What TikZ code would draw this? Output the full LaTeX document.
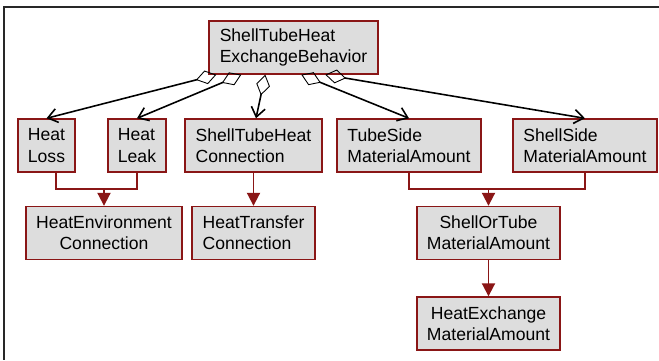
\documentclass[tikz,border=0pt]{standalone}
\usepackage{fontspec}
\setmainfont{Liberation Sans}
\usetikzlibrary{positioning,arrows.meta,calc}
\definecolor{ClassRed}{RGB}{138,22,22}
\definecolor{ClassGray}{RGB}{221,221,221}
\definecolor{FrameGray}{RGB}{40,40,40}

\begin{document}
\begin{tikzpicture}[x=0.02cm,y=-0.02cm, every node/.style={font=\fontsize{10}{12}\selectfont}]
\tikzset{
  cls/.style={draw=ClassRed, fill=ClassGray, line width=0.8pt, minimum height=1.06cm, inner sep=0pt},
  agg/.style={arrows={Diamond[open,length=0.42cm,width=0.28cm,line width=0.5pt]-Straight Barb[length=0.19cm,width=0.28cm]}, line width=0.9pt, black},
  genline/.style={line width=1.1pt, ClassRed},
  gen/.style={arrows={-Triangle[length=0.26cm,width=0.26cm]}, line width=1.1pt, ClassRed}
}
  \useasboundingbox (0,0) rectangle (659,360);
  \draw[line width=0.9pt, FrameGray] (659,7) -- (4,7) -- (4,360);

  \node[cls, minimum width=3.38cm, align=left] (beh) at (293.5,47.5) {ShellTubeHeat\\ExchangeBehavior};
  \node[cls, minimum width=1.14cm, align=left] (loss) at (46.5,145.5) {Heat\\Loss};
  \node[cls, minimum width=1.16cm, align=left] (leak) at (137,145.5) {Heat\\Leak};
  \node[cls, minimum width=2.74cm, align=left] (stc) at (253.5,145.5) {ShellTubeHeat\\Connection};
  \node[cls, minimum width=2.88cm, align=left] (tube) at (409,145.5) {TubeSide\\MaterialAmount};
  \node[cls, minimum width=2.88cm, align=left] (shell) at (585,145.5) {ShellSide\\MaterialAmount};
  \node[cls, minimum width=3.12cm, align=center] (env) at (104,233) {HeatEnvironment\\Connection};
  \node[cls, minimum width=2.46cm, align=left] (htc) at (253.5,233) {HeatTransfer\\Connection};
  \node[cls, minimum width=2.86cm, align=center] (sot) at (488.5,233) {ShellOrTube\\MaterialAmount};
  \node[cls, minimum width=2.86cm, align=center] (hem) at (488.5,323.5) {HeatExchange\\MaterialAmount};

  % aggregation
  \draw[agg] ([xshift=0.16cm]beh.south west) -- (loss.north);
  \draw[agg] ([xshift=0.66cm]beh.south west) -- (leak.north);
  \draw[agg] ([xshift=1.14cm]beh.south west) -- ([xshift=0.05cm]stc.north);
  \draw[agg] ([xshift=1.86cm]beh.south west) -- (tube.north);
  \draw[agg] ([xshift=2.34cm]beh.south west) -- (shell.north);

  % generalization
  \coordinate (jenv) at (104,189);
  \coordinate (jsot) at (488.5,189);
  \draw[genline] ([xshift=0.19cm]loss.south) |- (jenv) -| (leak.south);
  \draw[gen] (jenv) -- (env.north);
  \draw[gen] (stc.south) -- (htc.north);
  \draw[genline] (tube.south) |- (jsot) -| (shell.south);
  \draw[gen] (jsot) -- (sot.north);
  \draw[gen] (sot.south) -- (hem.north);
\end{tikzpicture}
\end{document}
